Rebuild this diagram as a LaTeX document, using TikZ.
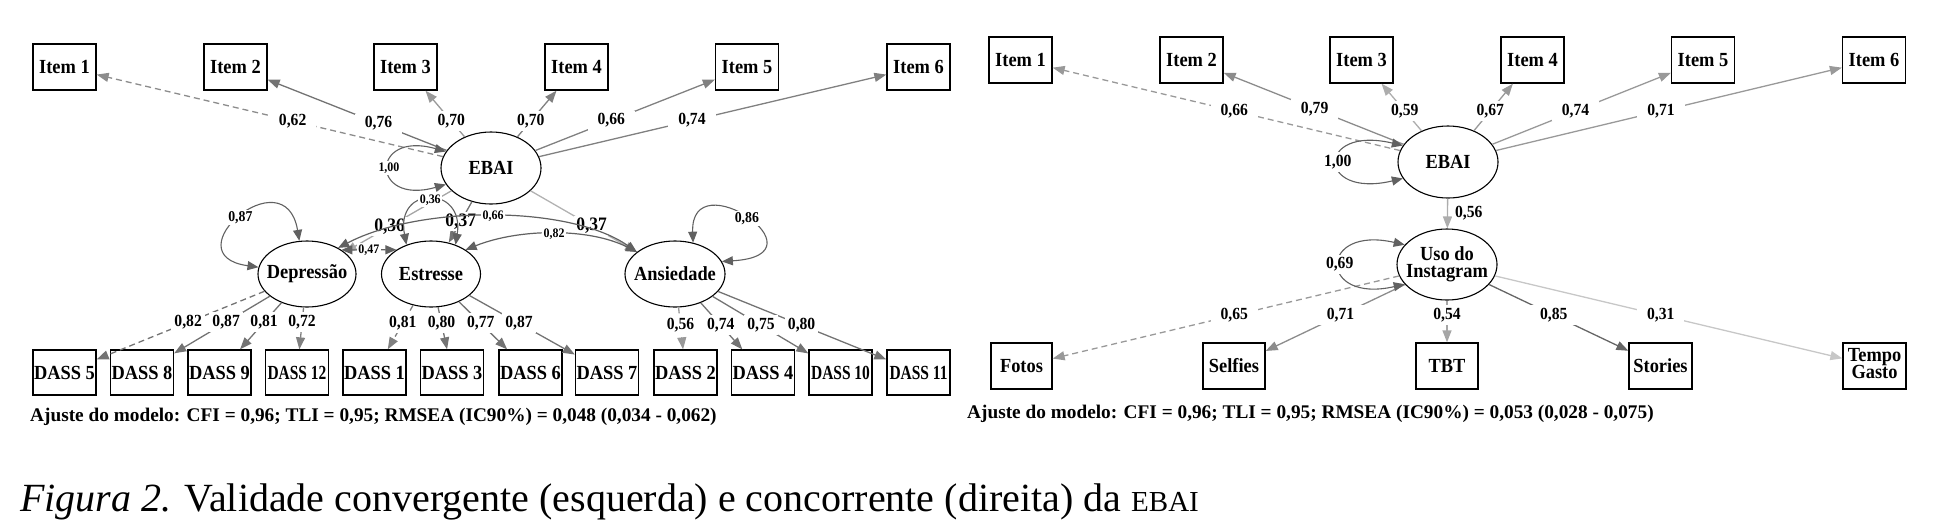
\documentclass[tikz,border=0pt]{standalone}
\usepackage{fontspec}
\setmainfont{Liberation Serif}
\newfontfamily\cf{Liberation Serif}[FakeStretch=0.92]
\usetikzlibrary{shapes.geometric,arrows.meta}
\newcommand{\zw}[1]{\makebox[0pt]{#1}}
\newcommand{\fs}[1]{\fontsize{#1}{#1}\selectfont}
\newcommand{\nx}[1]{\scalebox{0.84}[1]{#1}}
\tikzset{
  box/.style={draw, line width=1.3pt, fill=white, minimum width=63pt, minimum height=46pt, inner sep=0pt, font=\cf\bfseries\fs{20}},
  lat/.style={draw, ellipse, line width=1.1pt, fill=white, inner sep=0pt, minimum width=100pt, minimum height=68pt, font=\cf\bfseries\fs{20}},
  ld/.style={line width=1.3pt, -{Triangle[length=12pt,width=9pt]}},
  dsh/.style={dash pattern=on 6pt off 4pt},
  cov/.style={line width=1.2pt, draw=black!62, {Triangle[length=11pt,width=9pt]}-{Triangle[length=11pt,width=9pt]}},
  vloop/.style={line width=1.1pt, draw=black!62, {Triangle[length=11pt,width=9pt]}-{Triangle[length=11pt,width=9pt]}},
  lb/.style={fill=white, inner xsep=3pt, inner ysep=3pt, font=\cf\bfseries\fs{17}},
  lbw/.style={lb, inner xsep=10pt},
  lbs/.style={fill=white, inner sep=1.5pt, font=\cf\bfseries\fs{13}},
  lbm/.style={fill=white, inner sep=1.5pt, font=\cf\bfseries\fs{15}},
  lbb/.style={fill=white, inner sep=2pt, font=\cf\bfseries\fs{19}},
  fit/.style={anchor=base west, inner sep=0pt, font=\bfseries\fs{19.3}},
}
\begin{document}
\begin{tikzpicture}[x=1pt,y=-1pt]
\useasboundingbox (0,0) rectangle (1950,531);
% ================= LEFT PANEL =================
\node[box] (li1) at (64.5,67) {Item 1};
\node[box] (li2) at (235.5,67) {Item 2};
\node[box] (li3) at (405.5,67) {Item 3};
\node[box] (li4) at (576.5,67) {Item 4};
\node[box] (li5) at (747,67) {Item 5};
\node[box] (li6) at (918.5,67) {Item 6};
\node[lat, minimum height=72pt] (le) at (491,168) {\zw{EBAI}};
\node[lat, minimum width=98pt, minimum height=66pt] (dep) at (307,274) {\zw{Depressão}};
\node[lat, minimum width=99pt, minimum height=66pt] (est) at (431,274) {\zw{Estresse}};
\node[lat, minimum width=100pt, minimum height=66pt] (ans) at (675,274) {\zw{Ansiedade}};
\node[box, minimum height=45pt] (d5) at (64.5,372.5) {DASS 5};
\node[box, minimum height=45pt] (d8) at (142,372.5) {DASS 8};
\node[box, minimum height=45pt] (d9) at (219.5,372.5) {DASS 9};
\node[box, minimum height=45pt] (d12) at (297,372.5) {\nx{DASS 12}};
\node[box, minimum height=45pt] (d1) at (374.5,372.5) {DASS 1};
\node[box, minimum height=45pt] (d3) at (452,372.5) {DASS 3};
\node[box, minimum height=45pt] (d6) at (530.5,372.5) {DASS 6};
\node[box, minimum height=45pt] (d7) at (607,372.5) {DASS 7};
\node[box, minimum height=45pt] (d2) at (685.5,372.5) {DASS 2};
\node[box, minimum height=45pt] (d4) at (763,372.5) {DASS 4};
\node[box, minimum height=45pt] (d10) at (840.5,372.5) {\nx{DASS 10}};
\node[box, minimum height=45pt] (d11) at (918.5,372.5) {\nx{DASS 11}};
% loadings EBAI
\draw[ld,dsh,draw=black!45] (le) -- (li1);
\draw[ld,draw=black!55] (le) -- (li2);
\draw[ld,draw=black!40] (le) -- (li3);
\draw[ld,draw=black!50] (le) -- (li4);
\draw[ld,draw=black!50] (le) -- (li5);
\draw[ld,draw=black!50] (le) -- (li6);
% loadings DASS
\draw[ld,dsh,draw=black!55] (dep) -- (d5);
\draw[ld,draw=black!55] (dep) -- (d8);
\draw[ld,draw=black!55] (dep) -- (d9);
\draw[ld,draw=black!50] (dep) -- (d12);
\draw[ld,dsh,draw=black!50] (est) -- (d1);
\draw[ld,draw=black!55] (est) -- (d3);
\draw[ld,draw=black!55] (est) -- (d6);
\draw[ld,draw=black!55] (est) -- (d7);
\draw[ld,dsh,draw=black!40] (ans) -- (d2);
\draw[ld,draw=black!55] (ans) -- (d4);
\draw[ld,draw=black!55] (ans) -- (d10);
\draw[ld,draw=black!55] (ans) -- (d11);
% structural paths
\draw[ld,draw=black!35] (le) -- (dep) node[lbb,pos=.58]{0,36};
\draw[ld,draw=black!55] (le) -- (est) node[lbb,pos=.48]{0,37};
\draw[ld,draw=black!30] (le) -- (ans) node[lbb,pos=.575]{0,37};
% covariances
\draw[cov] (dep.40) .. controls (420,205) and (570,205) .. (ans.150) node[lbs,pos=.5]{0,66};
\draw[cov] (est.35) .. controls (520,228) and (590,228) .. (ans.150) node[lbs,pos=.5]{0,82};
\draw[cov] (dep.35) -- (est.145) node[lbs,pos=.5]{0,47};
% variances
\draw[vloop] (est.130) .. controls (395,185) and (465,185) .. (est.50) node[lbs,pos=.5]{0,36};
\draw[vloop] (le.160) .. controls (370,130) and (370,206) .. (le.200) node[lbs,pos=.5]{1,00};
\draw[vloop] (dep.103) .. controls (285,155) and (170,255) .. (dep.172) node[lbm,pos=.5]{0,87};
\draw[vloop] (ans.60) .. controls (690,160) and (830,255) .. (ans.15) node[lbm,pos=.5]{0,86};
% labels
\path (le.center) -- (li1.center) node[lbw,pos=.465]{0,62};
\path (le.center) -- (li2.center) node[lbw,pos=.44]{0,76};
\path (le.center) -- (li3.center) node[lbw,pos=.465]{0,70};
\path (le.center) -- (li4.center) node[lbw,pos=.465]{0,70};
\path (le.center) -- (li5.center) node[lbw,pos=.47]{0,66};
\path (le.center) -- (li6.center) node[lbw,pos=.47]{0,74};
\path (dep.center) -- (d5.center) node[lb,pos=.49]{0,82};
\path (dep.center) -- (d8.center) node[lb,pos=.49]{0,87};
\path (dep.center) -- (d9.center) node[lb,pos=.49]{0,81};
\path (dep.center) -- (d12.center) node[lb,pos=.49]{0,72};
\path (est.center) -- (d1.center) node[lb,pos=.5]{0,81};
\path (est.center) -- (d3.center) node[lb,pos=.5]{0,80};
\path (est.center) -- (d6.center) node[lb,pos=.5]{0,77};
\path (est.center) -- (d7.center) node[lb,pos=.5]{0,87};
\path (ans.center) -- (d2.center) node[lb,pos=.52]{0,56};
\path (ans.center) -- (d4.center) node[lb,pos=.52]{0,74};
\path (ans.center) -- (d10.center) node[lb,pos=.52]{0,75};
\path (ans.center) -- (d11.center) node[lb,pos=.52]{0,80};
\node[fit] (fitL) at (30,421) {Ajuste do modelo: CFI = 0,96; TLI = 0,95; RMSEA (IC90\%) = 0,048 (0,034 - 0,062)};
% ================= RIGHT PANEL =================
\node[box] (ri1) at (1020.5,60) {Item 1};
\node[box] (ri2) at (1191.5,60) {Item 2};
\node[box] (ri3) at (1361.5,60) {Item 3};
\node[box] (ri4) at (1532.5,60) {Item 4};
\node[box] (ri5) at (1703,60) {Item 5};
\node[box] (ri6) at (1874,60) {Item 6};
\node[lat, minimum height=72pt] (re) at (1448,162) {\zw{EBAI}};
\node[lat, minimum height=71pt] (ru) at (1447,264.5) {\zw{\begin{tabular}{@{}c@{}}Uso do\\[-3pt]Instagram\end{tabular}}};
\node[box, minimum width=61pt] (rf) at (1021.5,366) {Fotos};
\node[box, minimum width=62pt] (rs) at (1234,366) {Selfies};
\node[box, minimum width=62pt] (rt) at (1447,366) {TBT};
\node[box, minimum width=63pt] (rst) at (1660.5,366) {Stories};
\node[box] (rg) at (1874.5,366) {\begin{tabular}{@{}c@{}}Tempo\\[-3pt]Gasto\end{tabular}};
\draw[ld,dsh,draw=black!40] (re) -- (ri1);
\draw[ld,draw=black!45] (re) -- (ri2);
\draw[ld,draw=black!32] (re) -- (ri3);
\draw[ld,draw=black!40] (re) -- (ri4);
\draw[ld,draw=black!40] (re) -- (ri5);
\draw[ld,draw=black!40] (re) -- (ri6);
\draw[ld,draw=black!32] (re) -- (ru) node[lb,pos=.5,anchor=west,xshift=4pt]{0,56};
\draw[ld,dsh,draw=black!40] (ru) -- (rf);
\draw[ld,draw=black!45] (ru) -- (rs);
\draw[ld,draw=black!35] (ru) -- (rt);
\draw[ld,draw=black!60] (ru) -- (rst);
\draw[ld,draw=black!22] (ru) -- (rg);
\draw[vloop] (re.160) .. controls (1316,125) and (1316,199) .. (re.200) node[lb,pos=.5]{1,00};
\draw[vloop] (ru.155) .. controls (1318,225) and (1318,304) .. (ru.205) node[lb,pos=.5]{0,69};
\path (re.center) -- (ri1.center) node[lbw,pos=.5]{0,66};
\path (re.center) -- (ri2.center) node[lbw,pos=.52]{0,79};
\path (re.center) -- (ri3.center) node[lbw,pos=.5]{0,59};
\path (re.center) -- (ri4.center) node[lbw,pos=.5]{0,67};
\path (re.center) -- (ri5.center) node[lbw,pos=.5]{0,74};
\path (re.center) -- (ri6.center) node[lbw,pos=.5]{0,71};
\path (ru.center) -- (rf.center) node[lbw,pos=.5]{0,65};
\path (ru.center) -- (rs.center) node[lbw,pos=.5]{0,71};
\path (ru.center) -- (rt.center) node[lb,pos=.5]{0,54};
\path (ru.center) -- (rst.center) node[lbw,pos=.5]{0,85};
\path (ru.center) -- (rg.center) node[lbw,pos=.5]{0,31};
\node[fit] (fitR) at (967,418) {Ajuste do modelo: CFI = 0,96; TLI = 0,95; RMSEA (IC90\%) = 0,053 (0,028 - 0,075)};
% ================= CAPTION =================
\node[anchor=base west, inner sep=0pt, font=\fs{40}] (cap) at (20,511) {\textit{Figura 2.} Validade convergente (esquerda) e concorrente (direita) da {\fs{29}EBAI}};
\end{tikzpicture}
\end{document}
